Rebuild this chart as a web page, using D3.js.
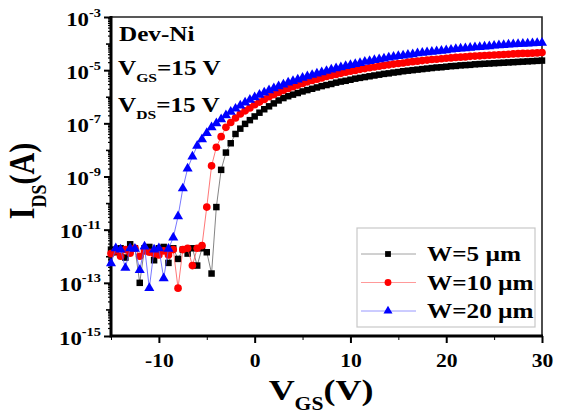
<!DOCTYPE html>
<html>
<head>
<meta charset="utf-8">
<script src="https://cdn.jsdelivr.net/npm/d3@7"></script>
<style>
  body{margin:0;background:#fff;}
  svg text{font-family:"Liberation Serif","Times New Roman",serif;font-weight:bold;fill:#000;}
</style>
</head>
<body>
<div id="chart"></div>
<script>
// gate sweep, V
var vgs = [-15,-14.5,-14,-13.5,-13,-12.5,-12,-11.5,-11,-10.5,-10,-9.5,-9,-8.5,-8,-7.5,-7,-6.5,-6,-5.5,
  -5,-4.5,-4,-3.5,-3,-2.5,-2,-1.5,-1,-0.5,0,0.5,1,1.5,2,2.5,3,3.5,4,4.5,
  5,5.5,6,6.5,7,7.5,8,8.5,9,9.5,10,10.5,11,11.5,12,12.5,13,13.5,14,14.5,
  15,15.5,16,16.5,17,17.5,18,18.5,19,19.5,20,20.5,21,21.5,22,22.5,23,23.5,24,24.5,
  25,25.5,26,26.5,27,27.5,28,28.5,29,29.5,30];

// log10(IDS / A)
var logIdsW5 = [-11.75,-11.85,-11.7,-12.05,-11.55,-11.7,-13.0,-11.7,-11.65,-12.15,-11.7,-11.65,-12.25,-11.7,-12.1,-11.75,-11.9,-11.7,-12.35,-11.7,
  -11.85,-12.65,-10.15,-8.75,-8.1,-7.75,-7.4,-7.2,-7.02,-6.88,-6.74,-6.6,-6.47,-6.36,-6.25,-6.14,-6.05,-5.98,-5.92,-5.86,
  -5.80,-5.75,-5.70,-5.65,-5.60,-5.56,-5.52,-5.47,-5.43,-5.40,-5.36,-5.32,-5.29,-5.26,-5.23,-5.20,-5.17,-5.14,-5.12,-5.09,
  -5.07,-5.04,-5.02,-5.00,-4.98,-4.96,-4.94,-4.92,-4.90,-4.89,-4.87,-4.85,-4.84,-4.82,-4.81,-4.80,-4.78,-4.77,-4.76,-4.75,
  -4.74,-4.73,-4.72,-4.71,-4.70,-4.69,-4.68,-4.67,-4.66,-4.65,-4.64];
var logIdsW10 = [-11.9,-11.8,-12.0,-11.75,-11.88,-11.7,-12.0,-11.8,-11.85,-11.9,-11.95,-11.8,-11.95,-11.75,-13.2,-11.75,-11.7,-12.35,-11.7,-11.6,
  -10.15,-8.6,-7.9,-7.5,-7.15,-6.97,-6.8,-6.65,-6.53,-6.42,-6.3,-6.2,-6.1,-6.0,-5.92,-5.84,-5.76,-5.69,-5.62,-5.56,
  -5.50,-5.44,-5.39,-5.34,-5.29,-5.24,-5.20,-5.16,-5.12,-5.08,-5.04,-5.01,-4.97,-4.94,-4.91,-4.88,-4.85,-4.82,-4.80,-4.77,
  -4.75,-4.73,-4.70,-4.68,-4.66,-4.64,-4.62,-4.60,-4.59,-4.57,-4.55,-4.54,-4.52,-4.51,-4.50,-4.48,-4.47,-4.46,-4.45,-4.44,
  -4.43,-4.42,-4.41,-4.40,-4.39,-4.38,-4.37,-4.37,-4.36,-4.35,-4.34];
var logIdsW20 = [-12.27,-11.7,-11.75,-12.44,-11.7,-11.72,-12.52,-11.64,-13.2,-11.75,-11.7,-12.83,-11.72,-11.3,-10.5,-9.45,-8.7,-8.25,-7.85,-7.6,
  -7.37,-7.15,-7.0,-6.85,-6.7,-6.57,-6.45,-6.33,-6.22,-6.12,-6.02,-5.93,-5.84,-5.76,-5.68,-5.61,-5.54,-5.47,-5.41,-5.35,
  -5.29,-5.23,-5.18,-5.13,-5.08,-5.03,-4.98,-4.93,-4.89,-4.85,-4.81,-4.77,-4.73,-4.69,-4.66,-4.62,-4.59,-4.56,-4.53,-4.50,
  -4.47,-4.45,-4.42,-4.40,-4.37,-4.35,-4.33,-4.31,-4.29,-4.27,-4.25,-4.23,-4.21,-4.19,-4.18,-4.16,-4.14,-4.13,-4.11,-4.10,
  -4.08,-4.07,-4.06,-4.04,-4.03,-4.02,-4.01,-4.00,-3.99,-3.98,-3.97];

var seriesNames = ["W=5 \u00b5m","W=10 \u00b5m","W=20 \u00b5m"];
var xTickValues = [-10,0,10,20,30];
var xMinorValues = [-15,-5,5,15,25];
var yLabelExps = [-3,-5,-7,-9,-11,-13,-15];

var drawchart = function(){
  var width=563;
  var height=418;
  var left=111, right=542, top=17, bottom=336;
  var sx=1.2;   // lettering in the figure is stretched sideways

  var svg = d3.select("#chart")
      .append("svg")
      .attr("width",width)
      .attr("height",height);

  var xScale = d3.scaleLinear()
      .domain([-15,30])
      .range([left,right]);
  var yScale = d3.scaleLog()
      .domain([1e-15,1e-3])
      .range([bottom,top]);

  var series = [
    {name:seriesNames[0],logs:logIdsW5,color:"#000000",line:"#666666",shape:d3.symbolSquare,size:42},
    {name:seriesNames[1],logs:logIdsW10,color:"#ff0000",line:"#ff5555",shape:d3.symbolCircle,size:46},
    {name:seriesNames[2],logs:logIdsW20,color:"#0000ff",line:"#5555ff",shape:d3.symbolTriangle,size:44}
  ];
  series.forEach(function(s){
    s.values = vgs.map(function(v,i){ return {v:v,ids:Math.pow(10,s.logs[i])}; });
  });

  // frame: thin top/right, heavy left/bottom
  svg.append("path")
      .attr("d","M"+left+","+top+"H"+right+"V"+bottom)
      .attr("fill","none")
      .attr("stroke","#222")
      .attr("stroke-width",1.6);

  // x axis ticks
  var xAxis = d3.axisBottom(xScale).tickValues(xTickValues).tickSize(7).tickPadding(11).tickFormat(d3.format("d"));
  var gx = svg.append("g")
      .attr("transform","translate(0,"+bottom+")")
      .call(xAxis);
  svg.append("g")
      .attr("transform","translate(0,"+bottom+")")
      .call(d3.axisBottom(xScale).tickValues(xMinorValues).tickSize(4).tickFormat(""))
      .select(".domain").remove();
  gx.select(".domain").remove();
  gx.selectAll(".tick line").attr("stroke","#000").attr("stroke-width",2);
  gx.selectAll(".tick text")
      .attr("font-size",18)
      .attr("font-family",null)
      .attr("transform","scale("+sx+",1)")
      .text(function(d){ return d<0 ? "-"+Math.abs(d) : d; });

  // y axis ticks (log): labelled decades, odd decades, 2..9 minors
  var yMajor = yLabelExps.map(function(e){ return Math.pow(10,e); });
  var yMid = [], yMinor = [];
  for(var e=-15;e<-3;e++){
    if(yLabelExps.indexOf(e)<0) yMid.push(Math.pow(10,e));
    for(var k=2;k<10;k++) yMinor.push(k*Math.pow(10,e));
  }
  [[yMajor,7,2],[yMid,5,1.6],[yMinor,3,1.2]].forEach(function(t){
    var g = svg.append("g")
        .attr("transform","translate("+left+",0)")
        .call(d3.axisLeft(yScale).tickValues(t[0]).tickSize(t[1]).tickFormat(""));
    g.select(".domain").remove();
    g.selectAll(".tick line").attr("stroke","#000").attr("stroke-width",t[2]);
  });

  var ylab = svg.append("g");
  yLabelExps.forEach(function(e){
    var t = ylab.append("text")
        .attr("text-anchor","end")
        .attr("font-size",19)
        .attr("transform","translate(101,"+(yScale(Math.pow(10,e))+8.5)+") scale("+sx+",1)");
    t.append("tspan").text("10");
    t.append("tspan").attr("font-size",12).attr("dy",-9).text(e);
  });

  // heavy axis lines
  svg.append("path")
      .attr("d","M"+left+","+(top-1)+"V"+bottom+"H"+(right+1))
      .attr("fill","none")
      .attr("stroke","#000")
      .attr("stroke-width",3);

  // data
  var line = d3.line()
      .x(function(d){ return xScale(d.v); })
      .y(function(d){ return yScale(d.ids); });
  series.forEach(function(s){
    var g = svg.append("g");
    g.append("path")
        .datum(s.values)
        .attr("d",line)
        .attr("fill","none")
        .attr("stroke",s.line)
        .attr("stroke-width",1)
        .attr("stroke-opacity",0.8);
    g.selectAll("path.pt")
        .data(s.values)
        .enter()
        .append("path")
        .attr("class","pt")
        .attr("d",d3.symbol().type(s.shape).size(s.size))
        .attr("transform",function(d){ return "translate("+xScale(d.v)+","+yScale(d.ids)+")"; })
        .attr("fill",s.color);
  });

  // annotations
  var note = function(x,y,main,sub,rest){
    var t = svg.append("text")
        .attr("font-size",21)
        .attr("transform","translate("+x+","+y+") scale("+sx+",1)");
    t.append("tspan").text(main);
    if(sub){
      t.append("tspan").attr("font-size",13).attr("dy",7).text(sub);
      t.append("tspan").attr("dy",-7).text(rest);
    }
  };
  note(119,41,"Dev-Ni");
  note(118,75,"V","GS","=15 V");
  note(118,112,"V","DS","=15 V");

  // axis titles
  var xt = svg.append("text")
      .attr("font-size",30)
      .attr("text-anchor","middle")
      .attr("transform","translate(321,400) scale("+sx+",1)");
  xt.append("tspan").text("V");
  xt.append("tspan").attr("font-size",18).attr("dy",10).text("GS");
  xt.append("tspan").attr("dy",-10).text("(V)");

  var yt = svg.append("text")
      .attr("font-size",30)
      .attr("text-anchor","middle")
      .attr("transform","translate(34,181) scale("+sx+",1) rotate(-90)");
  yt.append("tspan").text("I");
  yt.append("tspan").attr("font-size",18).attr("dy",10).text("DS");
  yt.append("tspan").attr("dy",-10).text("(A)");

  // legend
  var legend = svg.append("g");
  legend.append("rect")
      .attr("x",357).attr("y",228)
      .attr("width",178).attr("height",99)
      .attr("fill","#fff")
      .attr("stroke","#c8c8c8")
      .attr("stroke-width",1.2);
  var rows = legend.selectAll("g.row")
      .data(series)
      .enter()
      .append("g")
      .attr("class","row")
      .attr("transform",function(d,i){ return "translate(0,"+(254+i*28.5)+")"; });
  rows.append("line")
      .attr("x1",361).attr("x2",416)
      .attr("stroke",function(d){ return d.line; })
      .attr("stroke-opacity",0.6)
      .attr("stroke-width",1);
  rows.append("path")
      .attr("d",function(d){ return d3.symbol().type(d.shape).size(d.size*0.8)(); })
      .attr("transform","translate(388,0)")
      .attr("fill",function(d){ return d.color; });
  rows.append("text")
      .attr("font-size",21)
      .attr("transform","translate(427,7) scale("+sx+",1)")
      .text(function(d){ return d.name; });
};
drawchart();
</script>
</body>
</html>
